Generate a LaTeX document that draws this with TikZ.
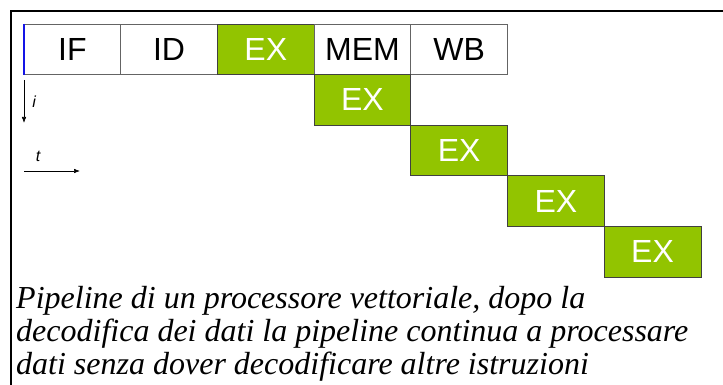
\documentclass[tikz,border=0pt]{standalone}
\usepackage{fontspec}
\setmainfont{Liberation Serif}
\setsansfont{Liberation Sans}
\usetikzlibrary{positioning, arrows.meta}
\definecolor{exgreen}{RGB}{146, 196, 0}
\definecolor{edgegray}{RGB}{100, 100, 100}
\definecolor{markblue}{RGB}{20, 20, 230}

\begin{document}
\begin{tikzpicture}[x=1pt, y=1pt,
        node distance=0pt,
        every node/.style={font=\sffamily},
        stage/.style={rectangle, minimum width=96.7pt, minimum height=50.6pt, inner sep=0pt, outer sep=0pt, draw=edgegray, line width=0.8pt, font=\fontsize{32}{32}\selectfont\sffamily},
        exstage/.style={stage, fill=exgreen, draw=black!75, text=white},
        arrow/.style={-{Latex[length=6pt,width=4.5pt]}, line width=0.6pt},
        axislabel/.style={font=\fontsize{16}{16}\selectfont\sffamily\itshape, inner sep=2pt}
    ]
        \useasboundingbox (0,0) rectangle (723,-385);

        % frame
        \draw[line width=1.6pt] (11,-385) -- (11,-11) -- (723,-11);

        % first instruction
        \node[stage, anchor=north west] (if) at (24,-24) {IF};
        \node[stage, right=of if] (id) {ID};
        \node[exstage, right=of id] (ex1) {EX};
        \node[stage, right=of ex1] (mem) {MEM};
        \node[stage, right=of mem] (wb) {WB};
        \draw[markblue, line width=1.6pt] (if.north west) -- (if.south west);

        % repeated execute stages
        \node[exstage, below=of mem] (ex2) {EX};
        \node[exstage, below right=of ex2] (ex3) {EX};
        \node[exstage, below right=of ex3] (ex4) {EX};
        \node[exstage, below right=of ex4] (ex5) {EX};

        % axes
        \coordinate (itop) at (24,-80);
        \coordinate (ibot) at (24,-123);
        \coordinate (tleft) at (24,-171);
        \coordinate (tright) at (80,-171);
        \draw[arrow] (itop) -- (ibot) node[axislabel, midway, right, xshift=6pt] {i};
        \draw[arrow] (tleft) -- (tright) node[axislabel, pos=0.25, above, yshift=7pt] {t};

        % caption
        \node[anchor=north west, align=left, inner sep=0pt, font=\fontsize{32}{33}\selectfont\rmfamily\itshape] (caption) at (16,-286.5)
            {Pipeline di un processore vettoriale, dopo la\\
             decodifica dei dati la pipeline continua a processare\\
             dati senza dover decodificare altre istruzioni};
    \end{tikzpicture}
\end{document}
